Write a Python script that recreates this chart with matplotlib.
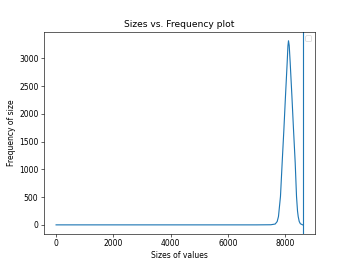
import matplotlib
matplotlib.use('Agg')
from matplotlib import pyplot as plt

# sizes (x) and how often each size occurs (y)
sizes = [0, 1000, 2000, 3000, 4000, 5000, 6000, 7000, 7500, 7650, 7720, 7765,
         7835, 7894, 7954, 8010, 8069, 8095, 8115, 8140, 8174, 8234, 8290,
         8349, 8395, 8430, 8454, 8490, 8530, 8610]
freq = [0, 0, 0, 0, 0, 0, 0, 0, 2, 15, 60, 150,
        512, 1120, 1717, 2319, 2922, 3220, 3315, 3230, 2922, 2319, 1717,
        1120, 512, 250, 150, 60, 20, 0]
limit = 8610

fig = plt.figure(figsize=(6.4, 263 / 54.6875), dpi=54.6875)
plt.plot(sizes, freq)
plt.axvline(limit)
plt.xlabel('Sizes of values')
plt.ylabel('Frequency of size')
plt.title('Sizes vs. Frequency plot')
plt.legend(handles=[], loc='upper right')
plt.savefig('out.png')
